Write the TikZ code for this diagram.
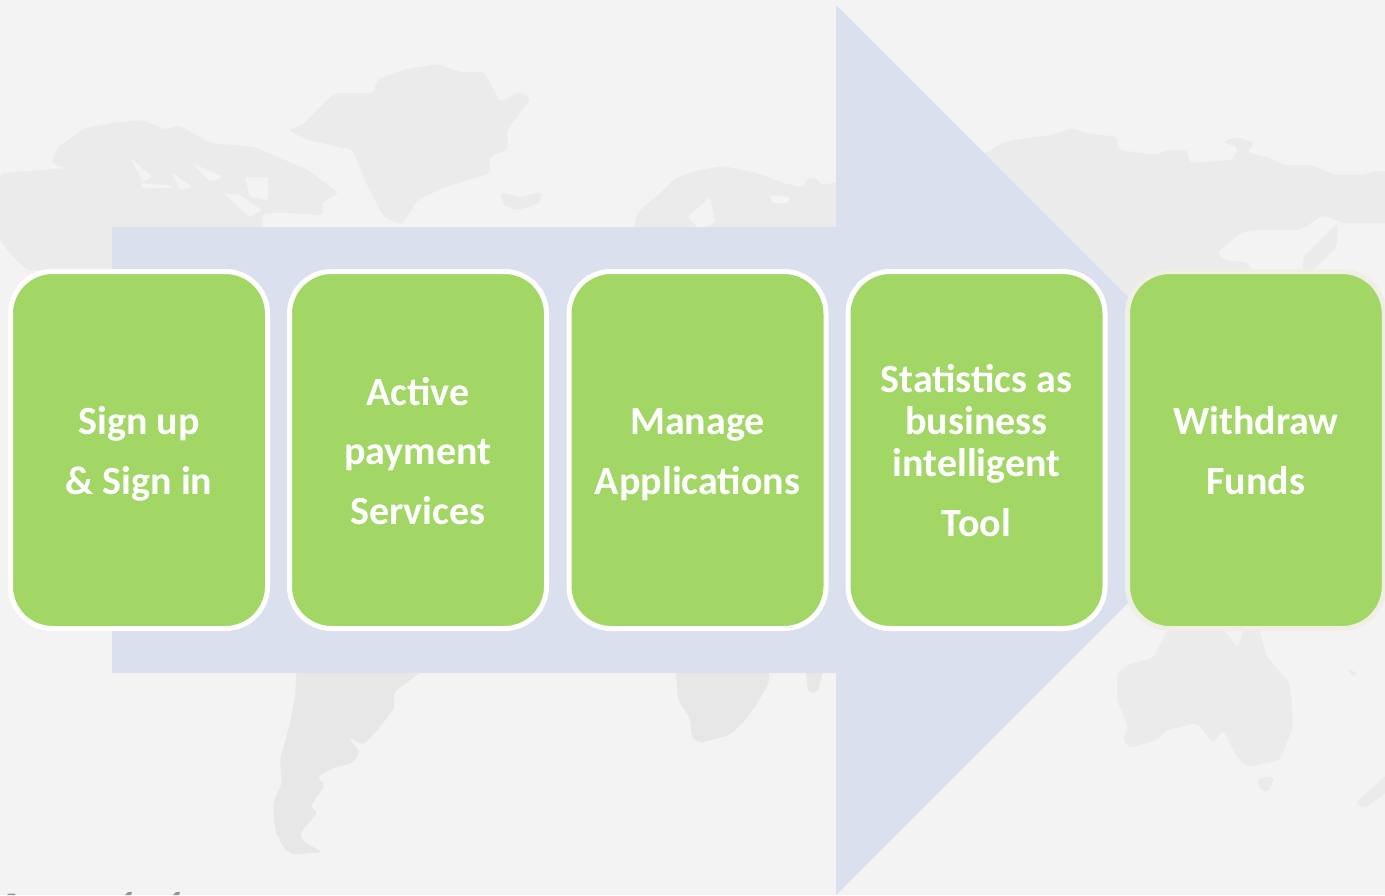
\documentclass[tikz,border=0pt]{standalone}
\usepackage{fontspec}
\setmainfont{Carlito}
\definecolor{bgc}{HTML}{F3F3F3}
\definecolor{land}{HTML}{EBEBEB}
\definecolor{landd}{HTML}{E7E7E7}
\definecolor{arrowc}{HTML}{DAE0ED}
\definecolor{boxg}{HTML}{A2D766}
\definecolor{edgew}{HTML}{EFEFE6}
\newcommand{\firststrut}{\rule{0pt}{39pt}}
\newcommand{\laststrut}{\rule[-10pt]{0pt}{10pt}}
\tikzset{
  x=1pt,y=-1pt,
  landshape/.style={fill=land,draw=none,rounded corners=4pt},
  landdark/.style={fill=landd,draw=none,rounded corners=4pt},
  seashape/.style={fill=bgc,draw=none,rounded corners=1.5pt},
  stepbox/.style={draw=white,line width=5pt,fill=boxg,rounded corners=42pt,
    minimum width=257pt,minimum height=357pt,inner sep=0pt,align=center,
    text=white,font=\fontsize{40}{59.5}\bfseries\selectfont},
}
\begin{document}
\begin{tikzpicture}
\useasboundingbox (0,0) rectangle (1385,895);
\fill[bgc] (0,0) rectangle (1385,895);
% North America
\fill[landshape] (0,173)--(45,170)--(76,167)--(89,177)--(51,163)--(58,147)--(85,128)--(112,123)--(143,120)--(165,130)--(179,125)--(210,143)--(254,147)--(268,153)--(308,170)--(339,193)--(321,203)--(324,215)--(286,213)--(263,213)--(261,235)--(188,235)--(210,207)--(223,197)--(180,280)--(27,270)--(13,257)--(0,240)--cycle;
\fill[seashape] (130,157)--(152,177)--(143,182)--cycle;
\fill[seashape] (172,173)--(192,187)--(180,190)--cycle;
\fill[seashape] (192,163)--(223,177)--(210,182)--cycle;
\fill[seashape] (141,183)--(174,186)--(174,188)--(141,188)--cycle;
\fill[seashape] (245,177)--(268,177)--(268,200)--(250,197)--cycle;
\fill[seashape] (223,193)--(250,217)--(262,210)--(240,195)--cycle;
% Greenland and Iceland
\fill[landshape] (288,130)--(308,140)--(353,150)--(366,183)--(384,217)--(402,225)--(417,200)--(446,187)--(491,173)--(489,157)--(507,150)--(507,130)--(531,98)--(520,92)--(500,102)--(484,72)--(460,72)--(437,64)--(402,70)--(377,80)--(373,93)--(335,93)--(317,110)--(303,125)--cycle;
\fill[landshape] (500,192)--(520,197)--(542,192)--(540,203)--(518,210)--(503,205)--cycle;
% Europe
\fill[landshape] (633,235)--(637,213)--(660,193)--(677,177)--(700,170)--(723,166)--(757,173)--(780,182)--(803,188)--(807,178)--(817,178)--(820,185)--(840,182)--(840,235)--cycle;
\fill[seashape] (770,195)--(790,197)--(788,203)--(772,203)--cycle;
\fill[seashape] (710,197)--(688,217)--(700,230)--(715,222)--cycle;
% Asia
\fill[landshape] (900,153)--(987,153)--(1003,142)--(1027,138)--(1053,135)--(1070,128)--(1087,133)--(1117,137)--(1118,150)--(1157,155)--(1167,150)--(1187,150)--(1190,163)--(1233,160)--(1238,147)--(1222,142)--(1237,137)--(1255,143)--(1247,152)--(1267,157)--(1283,165)--(1313,165)--(1333,175)--(1367,175)--(1373,170)--(1390,172)--(1390,223)--(1343,223)--(1323,215)--(1300,230)--(1253,230)--(1240,233)--(1217,253)--(1225,260)--(1250,263)--(1250,280)--(1170,280)--(1130,300)--(900,300)--cycle;
\fill[landshape] (1303,257)--(1337,223)--(1337,247)--(1313,270)--(1310,280)--(1303,280)--cycle;
% Australia and neighbours
\fill[landshape] (1153,658)--(1170,625)--(1220,625)--(1238,648)--(1245,625)--(1258,625)--(1267,657)--(1290,683)--(1293,727)--(1280,760)--(1248,767)--(1237,757)--(1223,730)--(1213,743)--(1197,723)--(1167,730)--(1157,740)--(1130,748)--(1123,740)--(1128,727)--(1117,700)--(1117,673)--(1127,665)--cycle;
\fill[landshape] (1257,778)--(1275,777)--(1268,792)--(1260,790)--cycle;
\fill[landshape] (1355,803)--(1390,772)--(1390,790)--(1365,808)--cycle;
\fill[landshape] (1347,668)--(1357,673)--(1353,677)--cycle;
% South America
\fill[landdark] (297,665)--(295,697)--(290,723)--(280,760)--(282,783)--(273,803)--(275,830)--(283,847)--(293,855)--(323,852)--(303,842)--(300,833)--(318,812)--(310,807)--(325,785)--(317,777)--(333,768)--(353,763)--(360,752)--(348,737)--(363,745)--(380,727)--(395,707)--(393,693)--(430,665)--cycle;
% Africa and Madagascar
\fill[landdark] (675,665)--(678,700)--(690,718)--(692,738)--(700,743)--(730,735)--(747,718)--(758,702)--(770,680)--(767,665)--cycle;
\fill[landdark] (805,665)--(825,665)--(817,693)--(808,692)--cycle;
% Clipped marks at the bottom edge
\fill[gray!85] (7,895)--(9,893.5)--(15,893.5)--(15,895)--cycle;
\fill[gray!85] (125,895)--(128,892)--(132,892)--(131,895)--cycle;
\fill[gray!85] (173,895)--(176,892)--(180,892)--(179,895)--cycle;
% Big arrow
\fill[arrowc] (112,227)--(836,227)--(836,5)--(1281,450)--(836,895)--(836,673)--(112,673)--cycle;
% Step boxes
\node[stepbox] (s1) at (139,450) {\firststrut Sign up\\\laststrut\& Sign in};
\node[stepbox] (s2) at (418,450) {\firststrut Active\\payment\\\laststrut Services};
\node[stepbox] (s3) at (697.5,450) {\firststrut Manage\\\laststrut Applications};
\node[stepbox] (s4) at (976.5,450) {\firststrut Statistics as\\[-17.5pt]business\\[-17.5pt]intelligent\\\laststrut Tool};
\node[stepbox,draw=edgew,minimum width=256.7pt] (s5) at (1255.9,450) {\firststrut Withdraw\\\laststrut Funds};
\end{tikzpicture}
\end{document}
